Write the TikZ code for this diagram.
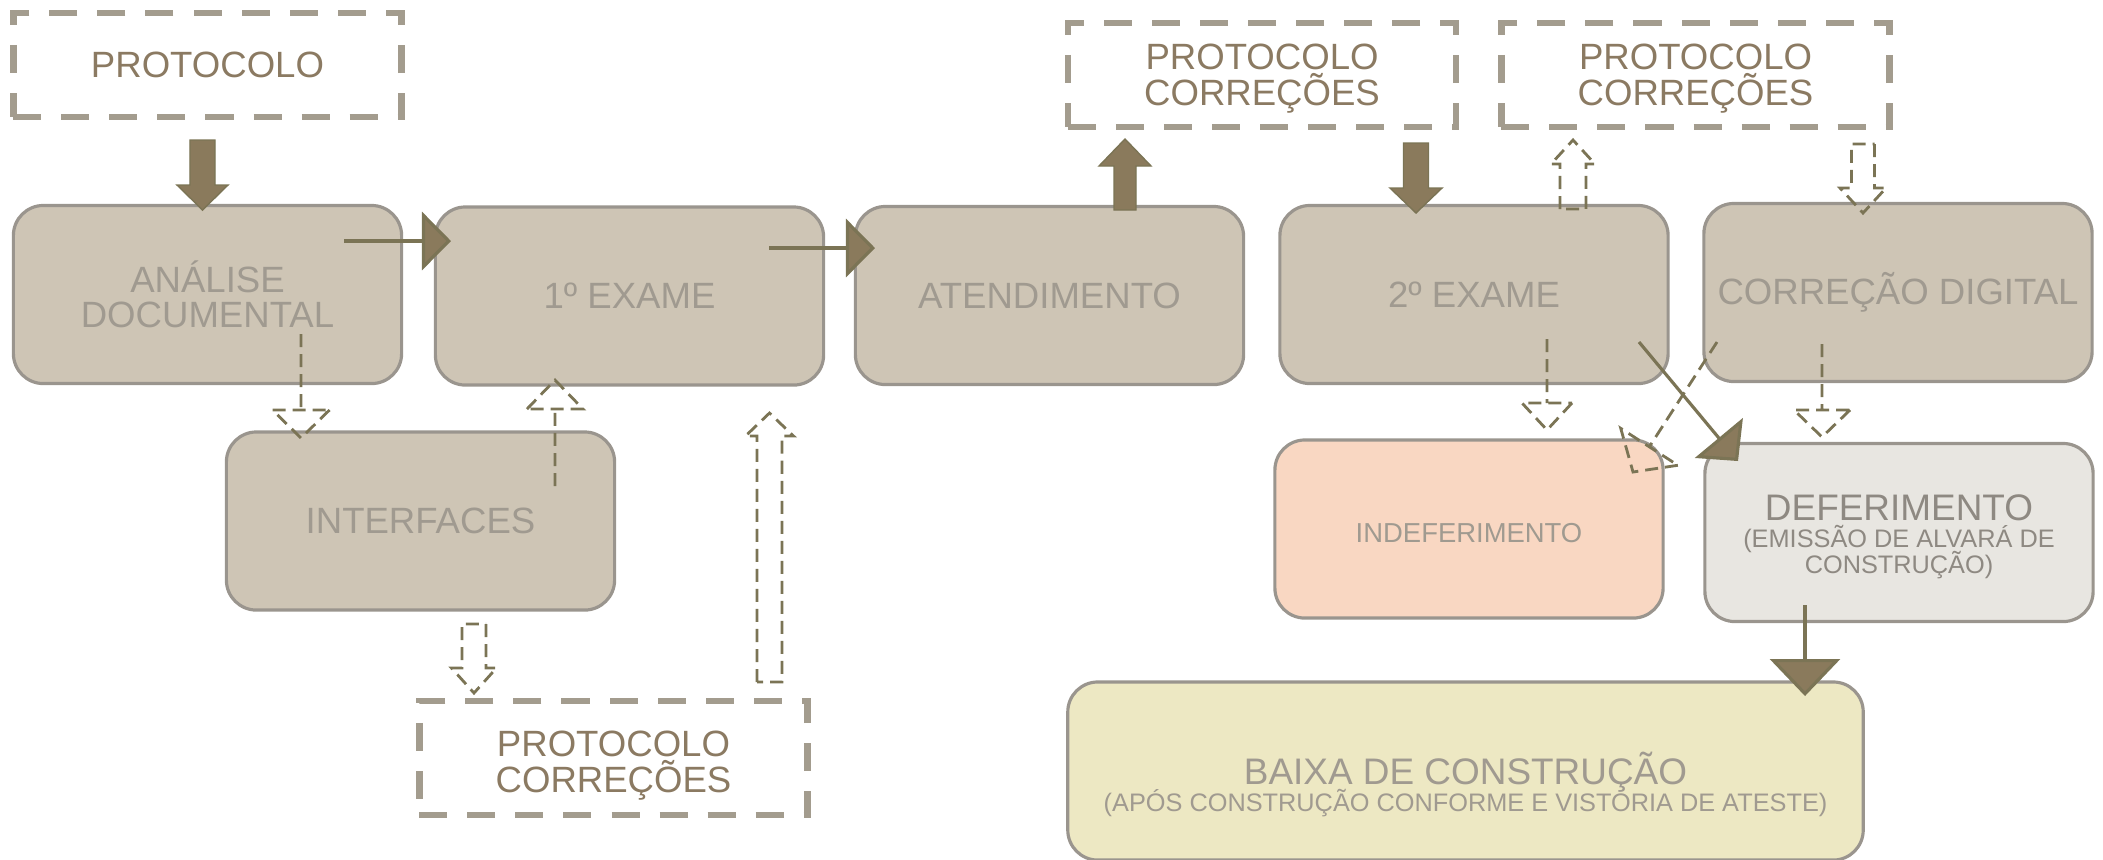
\documentclass[tikz,border=0pt]{standalone}
\usepackage{fontspec}
\setmainfont{Liberation Sans}
\usetikzlibrary{arrows.meta,calc}

\definecolor{boxfill}{HTML}{CEC5B5}
\definecolor{boxline}{HTML}{9A958E}
\definecolor{boxtext}{HTML}{A09A90}
\definecolor{deftext}{HTML}{8E8982}
\definecolor{protline}{HTML}{A39C8E}
\definecolor{prottext}{HTML}{8B7A62}
\definecolor{indeffill}{HTML}{F9D7C2}
\definecolor{deffill}{HTML}{E8E6E1}
\definecolor{baixafill}{HTML}{EDE8C3}
\definecolor{fatbrown}{HTML}{8A7A5C}
\definecolor{arrline}{HTML}{7B7455}

\lineskiplimit=-10pt

\tikzset{
  etapa/.style={draw=boxline, line width=0.9pt, fill=boxfill, rounded corners=0.3cm,
    minimum width=3.88cm, minimum height=1.78cm, inner sep=0pt, align=center,
    text=boxtext, font=\fontsize{10.4}{10}\selectfont},
  protocolo/.style={draw=protline, line width=1.8pt, dash pattern=on 0.28cm off 0.2cm,
    minimum width=3.88cm, minimum height=1.04cm, inner sep=0pt, align=center,
    text=prottext, font=\fontsize{10.4}{10}\selectfont, text height=0.6cm, text depth=0cm},
  fatarrow/.style={fill=fatbrown, draw=arrline, line width=0.4pt},
  dasharrow/.style={draw=arrline, line width=0.8pt, dash pattern=on 0.13cm off 0.07cm},
  fluxo/.style={draw=arrline, line width=0.9pt,
    -{Triangle[length=0.29cm, width=0.58cm, fill=fatbrown]}}
}

\newcommand{\blockarrow}[6][]{%
  \coordinate (bhead) at ($(#3)!#6!(#2)$);
  \draw[#1] ($(#2)!#4!90:(#3)$) -- ($(bhead)!#4!90:(#3)$) -- ($(bhead)!#5!90:(#3)$) -- (#3)
    -- ($(bhead)!#5!-90:(#3)$) -- ($(bhead)!#4!-90:(#3)$) -- ($(#2)!#4!-90:(#3)$) -- cycle;}

\newcommand{\thinarrow}[5][]{%
  \coordinate (bhead) at ($(#3)!#5!(#2)$);
  \draw[#1] (#2) -- (bhead) ($(bhead)!#4!90:(#3)$) -- (#3) -- ($(bhead)!#4!-90:(#3)$) -- cycle;}

\begin{document}
\begin{tikzpicture}[x=0.01cm, y=-0.01cm]
  \useasboundingbox (0,0) rectangle (2103,859);
  \clip (0,0) rectangle (2103,859);

  \node[protocolo, text height=0.24cm] (prot) at (207.5,65) {PROTOCOLO};
  \node[protocolo] (protmeio) at (1262,75) {PROTOCOLO\\CORREÇÕES};
  \node[protocolo] (protdir) at (1695.5,75) {PROTOCOLO\\CORREÇÕES};
  \node[protocolo, minimum height=1.14cm, text height=0.68cm] (protbaixo) at (613.5,758) {PROTOCOLO\\CORREÇÕES};

  \node[etapa] (analise) at (207.5,294.5) {ANÁLISE\\DOCUMENTAL};
  \node[etapa] (exame1) at (629.5,296) {1º EXAME};
  \node[etapa] (atend) at (1049.5,295.5) {ATENDIMENTO};
  \node[etapa] (exame2) at (1474,294.5) {2º EXAME};
  \node[etapa] (digital) at (1898,292.5) {CORREÇÃO DIGITAL};
  \node[etapa] (interf) at (420.5,521) {INTERFACES};
  \node[etapa, fill=indeffill, font=\fontsize{7.8}{8}\selectfont, text height=0.26cm, text depth=0cm] (indef) at (1469,529) {INDEFERIMENTO};
  \node[etapa, fill=deffill, text=deftext, font=\fontsize{7.2}{7.2}\selectfont, text height=0.81cm, text depth=0cm] (defer) at (1899,532.5)
    {{\fontsize{10.5}{10}\selectfont DEFERIMENTO}\\[0.5pt](EMISSÃO DE ALVARÁ DE\\CONSTRUÇÃO)};
  \node[etapa, fill=baixafill, minimum width=7.95cm, font=\fontsize{7.2}{7.2}\selectfont, text height=0.813cm, text depth=0cm] (baixa) at (1465.5,771)
    {{\fontsize{10.5}{10}\selectfont BAIXA DE CONSTRUÇÃO}\\[0.55pt](APÓS CONSTRUÇÃO CONFORME E VISTORIA DE ATESTE)};

  \coordinate (f1a) at (202.5,140); \coordinate (f1b) at (202.5,210);
  \blockarrow[fatarrow]{f1a}{f1b}{0.125cm}{0.255cm}{0.25cm}
  \coordinate (f2a) at (1125,210); \coordinate (f2b) at (1125,139);
  \blockarrow[fatarrow]{f2a}{f2b}{0.11cm}{0.26cm}{0.27cm}
  \coordinate (f3a) at (1416,143); \coordinate (f3b) at (1416,213);
  \blockarrow[fatarrow]{f3a}{f3b}{0.125cm}{0.26cm}{0.25cm}

  \coordinate (d1a) at (474,624); \coordinate (d1b) at (474,693);
  \blockarrow[dasharrow]{d1a}{d1b}{0.12cm}{0.225cm}{0.25cm}
  \coordinate (d2a) at (769.5,682); \coordinate (d2b) at (769.5,413);
  \blockarrow[dasharrow]{d2a}{d2b}{0.125cm}{0.24cm}{0.23cm}
  \coordinate (d3a) at (1573,209); \coordinate (d3b) at (1573,140);
  \blockarrow[dasharrow]{d3a}{d3b}{0.13cm}{0.22cm}{0.24cm}
  \coordinate (d4a) at (1863,144); \coordinate (d4b) at (1863,213);
  \blockarrow[dasharrow]{d4a}{d4b}{0.115cm}{0.23cm}{0.25cm}

  \coordinate (t1a) at (301,334); \coordinate (t1b) at (301,438);
  \thinarrow[dasharrow]{t1a}{t1b}{0.285cm}{0.28cm}
  \coordinate (t2a) at (555,486); \coordinate (t2b) at (555,380);
  \thinarrow[dasharrow]{t2a}{t2b}{0.28cm}{0.29cm}
  \coordinate (t3a) at (1547,339); \coordinate (t3b) at (1547,430);
  \thinarrow[dasharrow]{t3a}{t3b}{0.25cm}{0.27cm}
  \coordinate (t4a) at (1822,344); \coordinate (t4b) at (1822,437);
  \thinarrow[dasharrow]{t4a}{t4b}{0.28cm}{0.27cm}
  \coordinate (t5a) at (1717,342); \coordinate (t5b) at (1633,472);
  \thinarrow[dasharrow]{t5a}{t5b}{0.34cm}{0.30cm}

  \coordinate (l1a) at (344,241); \coordinate (l1b) at (451,241);
  \draw[fluxo] (l1a) -- (l1b);
  \coordinate (l2a) at (769,248); \coordinate (l2b) at (875,248);
  \draw[fluxo] (l2a) -- (l2b);
  \coordinate (l3a) at (1639,342); \coordinate (l3b) at (1738,461);
  \draw[fluxo, -{Triangle[length=0.3cm, width=0.62cm, fill=fatbrown]}] (l3a) -- (l3b);
  \coordinate (l4a) at (1805,605); \coordinate (l4b) at (1805,696);
  \draw[fluxo, -{Triangle[length=0.37cm, width=0.7cm, fill=fatbrown]}] (l4a) -- (l4b);
\end{tikzpicture}
\end{document}
